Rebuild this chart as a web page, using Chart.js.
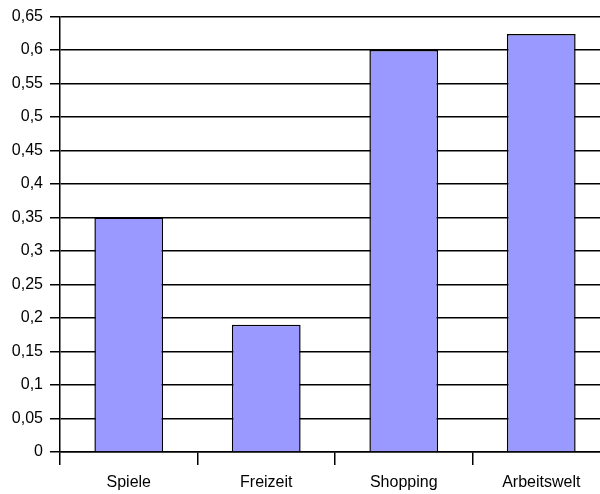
<!DOCTYPE html>
<html>
<head>
<meta charset="utf-8">
<script src="https://cdn.jsdelivr.net/npm/chart.js@4/dist/chart.umd.min.js"></script>
<style>
  html, body { margin: 0; padding: 0; background: #fff; overflow: hidden; width: 600px; height: 494px; }
  canvas { display: block; }
</style>
</head>
<body>
<canvas id="c" width="612" height="494"></canvas>
<script>
const categories = ["Spiele", "Freizeit", "Shopping", "Arbeitswelt"];
const values = [0.35, 0.19, 0.6, 0.624];
const yMin = 0, yMax = 0.65, yStep = 0.05;

function fmt(v) {
  return String(Math.round(v * 100) / 100).replace('.', ',');
}

const FONT = { family: '"Liberation Sans", Arial, sans-serif', size: 16 };

new Chart(document.getElementById('c'), {
  type: 'bar',
  data: {
    labels: categories,
    datasets: [{
      data: values,
      backgroundColor: '#9999FF',
      borderColor: '#000000',
      borderWidth: 1.5,
      categoryPercentage: 1.0,
      barPercentage: 0.5
    }]
  },
  options: {
    responsive: false,
    animation: false,
    devicePixelRatio: 1,
    layout: { padding: { top: 16, right: 2, left: 0, bottom: 0 } },
    plugins: { legend: { display: false }, tooltip: { enabled: false } },
    scales: {
      x: {
        offset: true,
        grid: { offset: true, drawOnChartArea: false, drawTicks: true, tickLength: 13, color: '#000', lineWidth: 1.5 },
        border: { display: true, color: '#000', width: 1.5 },
        ticks: { color: '#000', font: FONT, padding: 8, maxRotation: 0 },
        afterFit: s => { s.height = 42; }
      },
      y: {
        min: yMin, max: yMax,
        grid: { color: '#000', lineWidth: 1.5, tickLength: 10, drawTicks: true },
        border: { display: true, color: '#000', width: 1.5 },
        ticks: { stepSize: yStep, color: '#000', font: FONT, padding: 7, callback: v => fmt(v) },
        afterFit: s => { s.width = 60; }
      }
    }
  }
});
</script>
</body>
</html>
